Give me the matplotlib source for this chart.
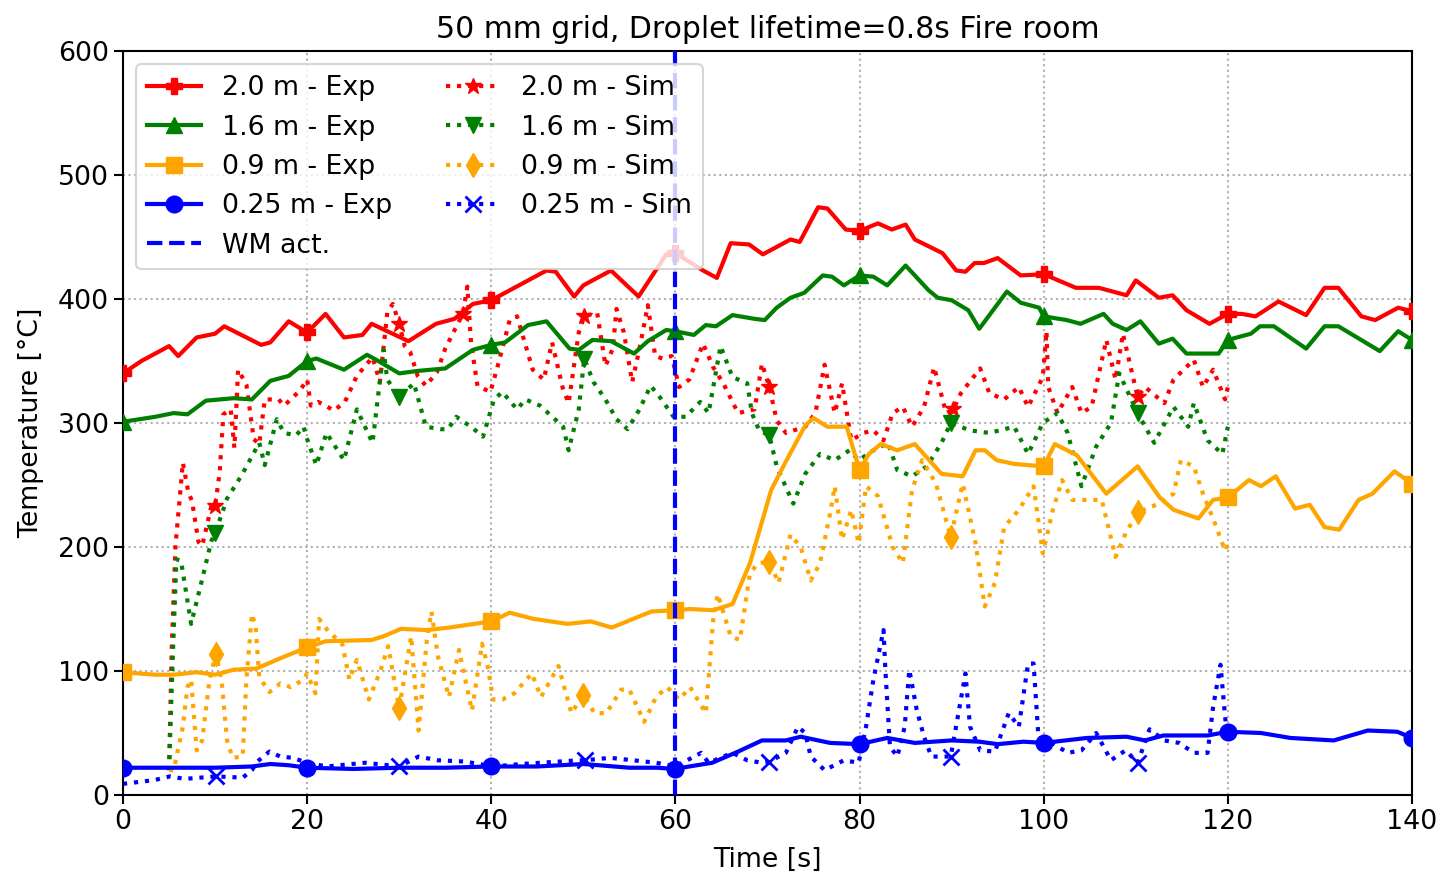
import numpy as np
import matplotlib
matplotlib.use("Agg")
import matplotlib.pyplot as plt

# ---------------- data ----------------
t_exp_20 = [0, 2, 5, 6, 8, 10, 11, 15, 16, 18, 20, 22, 24, 26, 27, 29, 31, 34, 36, 38,
            40, 44, 46, 47, 49, 50, 53, 56, 59, 60, 63, 64.5, 66, 68, 69.5, 72.5, 73.5, 75.5, 76.5, 78.5,
            80, 82, 83.5, 85, 86, 89, 90.5, 91.5, 92.5, 93.5, 95, 97.5, 100, 103.5, 106, 109, 110, 112.5, 114, 115.5,
            118, 120, 121.5, 123, 125.5, 128.5, 130.5, 132, 134.5, 136, 138.5, 140]
T_exp_20 = [340, 350, 362, 354, 369, 372, 378, 363, 365, 382, 373, 388, 369, 371, 380, 373, 366, 380, 384, 396,
            399, 415, 423, 422, 402, 411, 423, 402, 436, 437, 423, 417, 445, 444, 436, 448, 446, 474, 473, 456,
            455, 461, 456, 460, 448, 437, 423, 422, 429, 429, 433, 419, 420, 409, 409, 403, 415, 401, 403, 391,
            380, 388, 388, 386, 398, 387, 409, 409, 386, 383, 393, 390]

t_exp_16 = [0, 3.5, 5.5, 7, 9, 12, 14, 16, 18, 20, 21, 24, 26.5, 27.5, 30, 32, 35, 38, 40, 41.5,
            44, 46, 48.5, 49.5, 51, 53, 55.5, 57, 59, 60, 62, 63.3, 64.4, 66.2, 68.6, 69.7, 71, 72.5, 74, 76,
            77, 78.3, 80, 81.5, 83, 85, 87.5, 88.5, 90, 91.8, 93, 96, 97.5, 99.5, 100, 102.5, 104, 106.5, 107.5, 109,
            110.5, 112.5, 114, 115.5, 119, 120, 122.5, 123.5, 125, 128.5, 130.5, 132, 136.5, 138.5, 140]
T_exp_16 = [301, 305, 308, 307, 318, 320, 319, 334, 338, 350, 352, 343, 355, 351, 340, 342, 344, 359, 363, 365,
            379, 382, 360, 359, 367, 366, 356, 366, 375, 374, 371, 379, 378, 387, 384, 383, 393, 401, 405, 419,
            418, 411, 419, 418, 411, 427, 407, 401, 399, 391, 376, 406, 397, 393, 386, 383, 380, 388, 380, 375,
            382, 364, 368, 356, 356, 367, 372, 378, 378, 360, 378, 378, 358, 374, 367]

t_exp_09 = [0, 3.5, 5.5, 8, 10, 12, 14.5, 17, 20, 22, 27, 28.3, 30.2, 33, 35.4, 40, 42, 44.6, 48.3, 50.8,
            53.1, 55.4, 57.4, 60, 61.6, 64.1, 66.2, 68.1, 70.4, 72, 74.1, 75, 76.5, 78.6, 80, 81, 82.3, 84.1, 86, 88.9,
            91.2, 92.6, 93.6, 94.9, 96.8, 100, 101.2, 103.6, 106.8, 110.2, 112.6, 114.1, 116.8, 118.4, 120, 122.3,
            123.6, 125.2, 127.3, 128.9, 130.5, 132.1, 134.2, 135.7, 138.1, 140]
T_exp_09 = [99, 97, 97, 99, 97, 101, 102, 110, 119, 124, 125, 128, 134, 133, 135, 140, 147, 142, 138, 140,
            135, 142, 148, 149, 150, 149, 154, 187, 246, 269, 298, 304, 297, 297, 262, 275, 283, 278, 283, 259,
            257, 278, 278, 270, 267, 265, 283, 274, 243, 265, 240, 230, 223, 238, 240, 254,
            249, 257, 231, 234, 216, 214, 238, 243, 261, 251]

t_exp_025 = [0, 5, 10, 14, 16, 18, 20, 25, 30, 35, 40, 45, 50, 55, 58, 60, 61.5, 64, 66.8, 69.4,
             72, 73.6, 76.8, 80, 83, 86, 90, 93, 95, 97.8, 100, 104.7, 109, 111, 113, 117.8, 120, 123.6, 126.8, 131.5,
             135.2, 138.4, 140]
T_exp_025 = [22, 22, 22, 23, 25, 24, 22, 21, 22, 22, 23, 23, 25, 22, 22, 21, 23, 26, 35, 44,
             44, 47, 42, 41, 46, 42, 44, 43, 41, 43, 42, 46, 47, 44, 48, 48, 51, 50, 46, 44,
             52, 51, 46]

t_sim_20 = [5, 5.3, 5.7, 6.5, 7.1, 7.5, 8.2, 8.6, 9.6, 10,
            10.5, 10.9, 11.7, 12.1, 12.5, 13.4, 14.2, 14.8, 15.4, 16.9,
            17.5, 19.2, 20, 20.4, 21.2, 22, 22.9, 24.1, 25.4, 27.1,
            27.9, 28.7, 29.3, 30, 30.6, 31.2, 32, 32.9, 34.1, 35,
            36.9, 37.4, 37.8, 38.5, 39.9, 40.7, 42, 42.8, 44.5, 45.7,
            46.6, 47.8, 48.4, 49.5, 50.1, 51.5, 52.4, 53.2, 53.6, 54.4,
            55.3, 56.1, 57, 57.8, 58.6, 59.6, 60.4, 61.5, 63, 64.1,
            65.2, 66.8, 68.6, 69.4, 70.2, 71, 72, 74.1, 75.2, 76.2,
            77.3, 78.1, 79.1, 80.4, 81.5, 82.6, 83.6, 84.7, 85.7, 87,
            88.1, 89.4, 90.2, 91, 93.1, 94.1, 95.7, 97.3, 98.3, 99.9,
            100.3, 100.5, 101.5, 103.1, 104.1, 105.2, 106.8, 107.8, 108.6, 110.2,
            111, 113.1, 114.1, 116.3, 117.3, 118.4, 119.7, 120]
T_sim_20 = [20, 120, 201, 268, 244, 237, 204, 201, 233, 233,
            260, 307, 311, 280, 343, 331, 287, 283, 319, 319,
            314, 326, 335, 314, 317, 314, 310, 317, 338, 353,
            333, 389, 396, 380, 362, 357, 338, 330, 341, 360,
            388, 410, 365, 330, 325, 346, 383, 386, 343, 335,
            365, 327, 316, 373, 386, 389, 346, 360, 392, 373,
            333, 360, 395, 354, 352, 354, 329, 335, 364, 345,
            332, 308, 311, 348, 329, 302, 292, 297, 308, 347,
            308, 332, 286, 292, 294, 286, 308, 313, 297, 313,
            345, 308, 311, 324, 344, 324, 319, 329, 313, 337,
            374, 329, 308, 329, 308, 313, 367, 335, 372, 321,
            329, 316, 335, 351, 329, 343, 319, 329]

t_sim_16 = [5, 5.4, 5.8, 6.3, 7.4, 8.4, 9.6, 10, 11.3, 12.9,
            14.8, 15.4, 16.7, 17.5, 18.8, 19.6, 20, 21, 22.1, 24,
            25.4, 27.1, 28.3, 28.7, 30, 31.6, 32.9, 34.5, 35.3, 36.2,
            37.8, 39.1, 40.3, 41.2, 42.8, 43.7, 45.3, 47.8, 48.4, 49.5,
            50.1, 51.1, 52.4, 53.6, 54.8, 56.1, 57.3, 58.2, 59.8, 61.1,
            62.7, 63.6, 64.9, 66.2, 67.8, 68.3, 69.1, 70.2, 71, 72.8,
            74.1, 75.7, 77.3, 78.9, 79.9, 81.5, 83.1, 84.1, 85.7, 87.3,
            88.9, 89.9, 92, 94.1, 96.8, 98.3, 99.9, 101.5, 102.6, 104.1,
            105.7, 107.3, 108.2, 110.2, 112, 114.1, 115.7, 116.3, 117.8, 119.4,
            120]
T_sim_16 = [20, 110, 190, 189, 138, 168, 205, 211, 239, 258,
            284, 266, 303, 292, 290, 297, 287, 266, 292, 270,
            311, 284, 359, 335, 321, 332, 297, 295, 295, 305,
            297, 289, 319, 325, 311, 319, 314, 297, 278, 311,
            352, 333, 319, 303, 295, 311, 330, 322, 305, 305,
            317, 308, 362, 337, 332, 308, 294, 290, 265, 235,
            259, 275, 270, 278, 270, 278, 284, 262, 257, 265,
            284, 300, 294, 292, 297, 275, 300, 308, 292, 249,
            281, 300, 340, 308, 284, 313, 297, 316, 286, 275,
            297]

t_sim_09 = [5, 5.5, 6.5, 7, 7.4, 8, 8.6, 9.4, 10.1, 10.7,
            11.3, 11.9, 13, 13.4, 14, 14.4, 14.8, 15.9, 17.1, 18.2,
            19.6, 20, 20.9, 21.3, 22.3, 23.8, 24.6, 25.4, 26.7, 28,
            28.8, 30, 31.3, 32.1, 33, 33.5, 34.2, 35.4, 36.5, 37.9,
            39, 39.6, 40.2, 41.2, 42.5, 44.4, 45.4, 47.3, 48.7, 50,
            51.2, 52.5, 54.1, 55, 56.6, 57.9, 59.1, 60.4, 61.6, 63.3,
            64.1, 64.6, 66, 67, 68.1, 69, 70.2, 71.2, 72.5, 73.6,
            74.7, 75.7, 76.8, 77.3, 78.1, 79.1, 79.9, 80.7, 82, 83.6,
            84.7, 85.7, 86.8, 88.3, 89.9, 91.2, 92.6, 93.6, 94.7, 95.7,
            97.3, 98.9, 99.9, 101, 102, 103.1, 104.7, 106.3, 107.8, 108.9,
            110.2, 111.5, 112.6, 114.1, 114.9, 116.3, 117.3, 118.6, 119.7, 120]
T_sim_09 = [20, 20, 55, 87, 93, 36, 44, 93, 114, 93,
            44, 30, 31, 93, 146, 136, 95, 83, 90, 87,
            93, 98, 82, 142, 132, 122, 93, 109, 77, 101,
            120, 70, 128, 52, 125, 148, 112, 79, 117, 68,
            122, 104, 77, 77, 82, 98, 79, 104, 66, 81,
            66, 66, 85, 85, 59, 79, 87, 77, 87, 66,
            141, 162, 128, 125, 179, 187, 188, 171, 210, 200,
            173, 187, 227, 249, 206, 230, 203, 249, 241, 200,
            187, 246, 270, 251, 208, 251, 203, 152, 171, 216,
            230, 249, 195, 230, 254, 238, 238, 238, 192, 211,
            228, 232, 235, 243, 270, 265, 243, 219, 197, 203]

t_sim_025 = [0, 3.4, 5.1, 6.7, 10.1, 13, 14, 14.6, 15.9, 17.1,
             18.4, 20, 22.1, 26.3, 30, 32.1, 34.2, 37.1, 40.2, 43.3,
             49.5, 50.2, 52.9, 57.9, 60, 62.8, 63.6, 66.2, 67.8, 69.4,
             70.2, 72, 73.3, 74.1, 74.7, 76.2, 78.3, 79.9, 80.7, 81.5,
             82.6, 82.8, 83.3, 84.1, 84.9, 85.4, 86.2, 87, 87.8, 89.9,
             91.5, 92, 93.1, 94.7, 96.2, 97.3, 98.3, 98.9, 99.4, 100.5,
             102.6, 104.1, 105.7, 107.3, 108.9, 110.2, 111.5, 113.1, 114.7, 116.3,
             117.8, 118.4, 119.2, 119.7, 120]
T_sim_025 = [9, 12, 15, 13, 15, 14, 20, 27, 35, 31,
             30, 26, 23, 26, 23, 31, 28, 27, 23, 25,
             28, 28, 30, 26, 23, 34, 26, 34, 28, 26,
             27, 34, 55, 50, 31, 20, 28, 26, 55, 93,
             133, 101, 39, 31, 55, 101, 69, 47, 31, 31,
             98, 55, 36, 35, 66, 55, 106, 106, 50, 44,
             34, 36, 50, 28, 36, 26, 53, 44, 42, 34,
             34, 71, 105, 63, 44]

wm_activation = 60
exp_labels = ["2.0 m - Exp", "1.6 m - Exp", "0.9 m - Exp", "0.25 m - Exp"]
sim_labels = ["2.0 m - Sim", "1.6 m - Sim", "0.9 m - Sim", "0.25 m - Sim"]
x_ticks = [0, 20, 40, 60, 80, 100, 120, 140]
y_ticks = [0, 100, 200, 300, 400, 500, 600]

# ---------------- plotting ----------------
plt.rcParams['font.family'] = ['DejaVu Sans']
FS = 19.3
fig = plt.figure(figsize=(14.43, 8.76), dpi=100)
ax = fig.add_axes([123/1443, 1-795/876, (1412-123)/1443, (795-51)/876])

def idx_near(t, times):
    t = np.asarray(t)
    return [int(np.argmin(np.abs(t - v))) for v in times]

exp_marker_times = [0, 20, 40, 60, 80, 100, 120, 140]
sim_marker_times = [10, 30, 50, 70, 90, 110]

colors = ['red', 'green', 'orange', 'blue']
exp_markers = ['P', '^', 's', 'o']
sim_markers = ['*', 'v', 'd', 'x']
exps = [(t_exp_20, T_exp_20), (t_exp_16, T_exp_16), (t_exp_09, T_exp_09), (t_exp_025, T_exp_025)]
sims = [(t_sim_20, T_sim_20), (t_sim_16, T_sim_16), (t_sim_09, T_sim_09), (t_sim_025, T_sim_025)]

handles_exp, handles_sim = [], []
for (t, T), c, m, lab in zip(exps, colors, exp_markers, exp_labels):
    h, = ax.plot(t, T, '-', color=c, lw=3.0, marker=m, markersize=12,
                 markevery=idx_near(t, exp_marker_times), label=lab, zorder=3)
    handles_exp.append(h)
for i, ((t, T), c, m, lab) in enumerate(zip(sims, colors, sim_markers, sim_labels)):
    mt = [10, 30, 37, 50, 70, 90, 110] if i == 0 else sim_marker_times
    kw = dict(markeredgewidth=2.0) if m == 'x' else {}
    h, = ax.plot(t, T, ':', color=c, lw=3.0, marker=m, markersize=12,
                 markevery=idx_near(t, mt), label=lab, zorder=2, **kw)
    handles_sim.append(h)

hwm = ax.axvline(wm_activation, color='blue', ls='--', lw=3.0, label='WM act.', zorder=4)

ax.set_xlim(0, 140)
ax.set_ylim(0, 600)
ax.set_xticks(x_ticks)
ax.set_yticks(y_ticks)
ax.grid(True, ls=':', color='#b0b0b0', lw=1.5)
ax.tick_params(labelsize=FS, length=6.5, width=1.5)
for s in ax.spines.values():
    s.set_linewidth(1.5)
ax.set_xlabel("Time [s]", fontsize=FS, labelpad=9)
ax.set_ylabel("Temperature [°C]", fontsize=FS, labelpad=10)
ax.set_title("50 mm grid, Droplet lifetime=0.8s Fire room", fontsize=21.5, pad=9)

leg = ax.legend(handles_exp + [hwm] + handles_sim,
                [h.get_label() for h in handles_exp + [hwm] + handles_sim],
                loc='upper left', ncol=2, fontsize=FS, handlelength=2.0,
                columnspacing=2.0, borderaxespad=0.5, framealpha=0.8)
leg.get_frame().set_linewidth(1.5)

fig.savefig("out.png", dpi=100)
